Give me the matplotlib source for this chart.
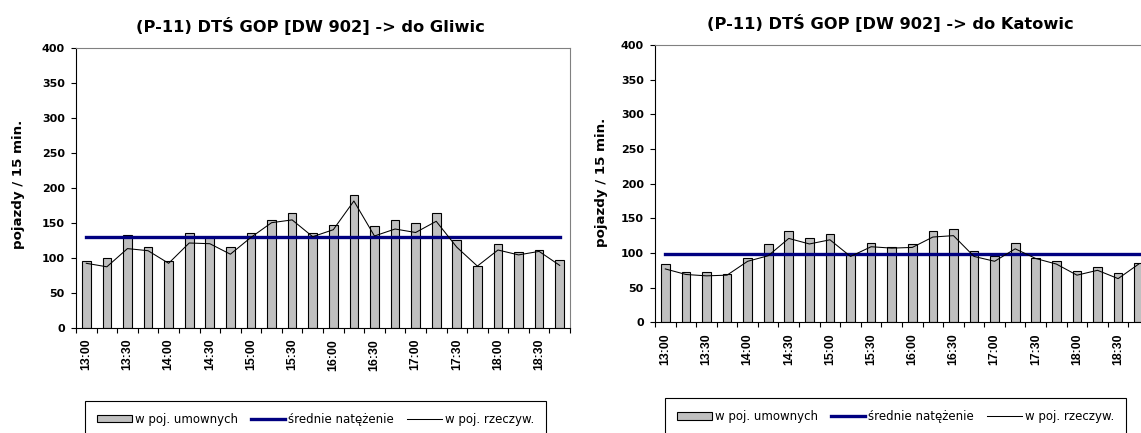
import matplotlib
matplotlib.use("Agg")
import matplotlib.pyplot as plt

# =========================
# Data (vehicles / 15 min)
# =========================
slots = ["13:00", "13:15", "13:30", "13:45", "14:00", "14:15", "14:30", "14:45",
         "15:00", "15:15", "15:30", "15:45", "16:00", "16:15", "16:30", "16:45",
         "17:00", "17:15", "17:30", "17:45", "18:00", "18:15", "18:30", "18:45"]
tick_labels = ["13:00", "13:30", "14:00", "14:30", "15:00", "15:30",
               "16:00", "16:30", "17:00", "17:30", "18:00", "18:30"]

gliwice_umowne = [96, 100, 132, 116, 96, 135, 130, 116, 136, 154, 164, 136,
                  147, 189, 145, 154, 150, 164, 125, 88, 119, 108, 111, 97]
gliwice_rzecz = [92, 87, 113, 110, 92, 121, 120, 105, 129, 150, 154, 130,
                 140, 181, 131, 141, 136, 152, 115, 88, 111, 104, 109, 89]
gliwice_srednie = 130

katowice_umowne = [84, 73, 73, 70, 93, 113, 131, 122, 128, 98, 114, 108,
                   113, 131, 134, 103, 95, 114, 93, 89, 74, 80, 71, 85]
katowice_rzecz = [77, 69, 67, 68, 88, 96, 121, 113, 119, 95, 109, 107,
                  108, 123, 125, 95, 88, 106, 92, 84, 68, 75, 63, 84]
katowice_srednie = 99

plt.rcParams["font.family"] = "DejaVu Sans"

W, H = 1141, 433
fig = plt.figure(figsize=(W / 100, H / 100), dpi=100)


def panel(rect, title, title_xy, ylabel_xy, legend_xy, umowne, rzecz, srednie):
    ax = fig.add_axes(rect)
    x = list(range(len(slots)))

    bars = ax.bar(x, umowne, width=0.42, color="#c0c0c0", edgecolor="black",
                  linewidth=0.8, zorder=2)
    mean_line, = ax.plot(x, [srednie] * len(x), color="#000080", linewidth=2.4, zorder=3)
    real_line, = ax.plot(x, rzecz, color="black", linewidth=0.75, zorder=4)

    ax.set_xlim(-0.5, len(slots) - 0.5)
    ax.set_ylim(0, 400)
    ax.set_yticks(range(0, 401, 50))

    # hour labels on every second slot, tick marks between the slots
    ax.set_xticks(x[::2])
    ax.set_xticklabels(tick_labels, rotation=90, fontweight="bold",
                       fontsize=8.8, family="Liberation Sans")
    ax.set_xticks([i - 0.5 for i in range(len(slots) + 1)], minor=True)
    ax.tick_params(axis="x", which="major", length=0, pad=8)
    ax.tick_params(axis="x", which="minor", length=3.6, width=0.8, direction="out")
    ax.tick_params(axis="y", length=3.6, width=0.8, direction="out", pad=4.5)
    for lab in ax.get_yticklabels():
        lab.set_fontweight("bold")
        lab.set_fontsize(8)

    for s in ["left", "bottom"]:
        ax.spines[s].set_color("black")
        ax.spines[s].set_linewidth(0.8)
    for s in ["top", "right"]:
        ax.spines[s].set_color("#808080")
        ax.spines[s].set_linewidth(0.8)

    fig.text(title_xy[0] / W, 1 - title_xy[1] / H, title, ha="center",
             va="baseline", fontsize=11.7, fontweight="bold")
    fig.text(ylabel_xy[0] / W, 1 - ylabel_xy[1] / H, "pojazdy / 15 min.",
             rotation=90, ha="center", va="center", fontsize=9.6,
             fontweight="bold")

    leg = ax.legend([bars, mean_line, real_line],
                    ["w poj. umownych", "średnie natężenie", "w poj. rzeczyw."],
                    loc="upper left", bbox_to_anchor=(legend_xy[0] / W, 1 - legend_xy[1] / H),
                    bbox_transform=fig.transFigure, ncol=3, fontsize=8.5,
                    frameon=True, fancybox=False, edgecolor="black", framealpha=1,
                    borderaxespad=0, borderpad=1.0, handlelength=2.95,
                    handleheight=0.6, handletextpad=0.25, columnspacing=1.1)
    leg.get_frame().set_linewidth(0.8)
    return ax


panel([76 / W, 1 - 327.7 / H, 494 / W, 280 / H],
      "(P-11) DTŚ GOP [DW 902] -> do Gliwic", (310.5, 31.7), (18.3, 184), (85, 401),
      gliwice_umowne, gliwice_rzecz, gliwice_srednie)

panel([655 / W, 1 - 322.3 / H, 494 / W, 277.3 / H],
      "(P-11) DTŚ GOP [DW 902] -> do Katowic", (890, 28.7), (601.7, 182.5), (665, 398.3),
      katowice_umowne, katowice_rzecz, katowice_srednie)

fig.savefig("out.png", dpi=100)
